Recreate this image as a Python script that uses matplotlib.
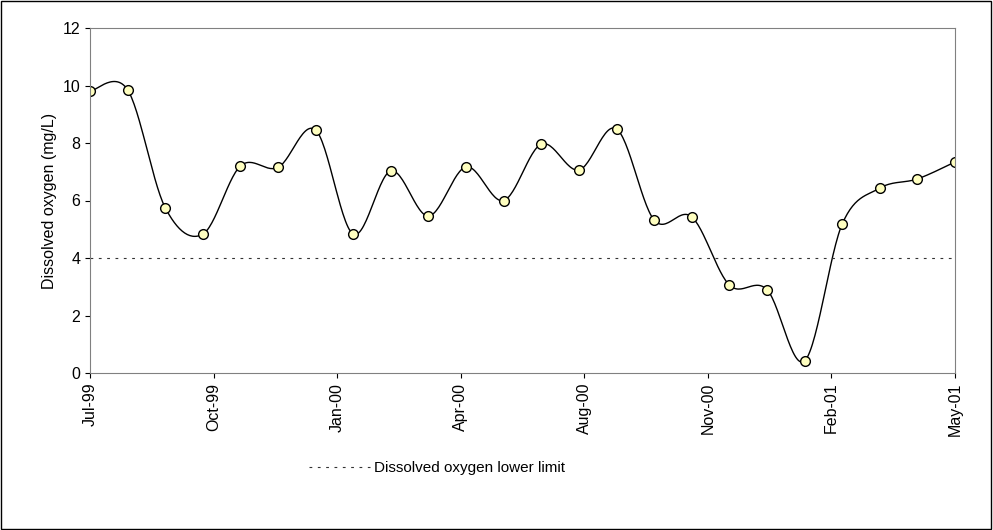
import matplotlib
matplotlib.use("Agg")
import matplotlib.pyplot as plt
import numpy as np
from matplotlib.lines import Line2D

plt.rcParams['font.family'] = ['Liberation Sans', 'DejaVu Sans']

values = [9.8, 9.85, 5.75, 4.83, 7.2, 7.15, 8.45, 4.83, 7.03, 5.46, 7.17, 6.0,
          7.96, 7.06, 8.49, 5.32, 5.43, 3.06, 2.9, 0.42, 5.18, 6.43, 6.75, 7.34]
tick_labels = ["Jul-99", "Oct-99", "Jan-00", "Apr-00", "Aug-00", "Nov-00", "Feb-01", "May-01"]
lower_limit = 4

x = np.arange(len(values), dtype=float)
y = np.array(values)

def catmull(x, y, n=30):
    px = np.concatenate([[x[0]], x, [x[-1]]])
    py = np.concatenate([[y[0]], y, [y[-1]]])
    xs, ys = [], []
    for i in range(1, len(px) - 2):
        p0, p1, p2, p3 = [np.array([px[j], py[j]]) for j in (i-1, i, i+1, i+2)]
        c1 = p1 + (p2 - p0) / 6
        c2 = p2 - (p3 - p1) / 6
        t = np.linspace(0, 1, n)[:, None]
        b = (1-t)**3*p1 + 3*(1-t)**2*t*c1 + 3*(1-t)*t**2*c2 + t**3*p2
        xs.extend(b[:, 0]); ys.extend(b[:, 1])
    return np.array(xs), np.array(ys)

fig = plt.figure(figsize=(9.93, 5.30), dpi=100)
fig.patches.append(plt.Rectangle((0.001, 0.002), 0.997, 0.996, transform=fig.transFigure,
                                 fill=False, edgecolor='black', linewidth=1))
ax = fig.add_axes([90/993, 1-373/530, 865/993, 345/530])
sx, sy = catmull(x, y)
ax.plot(sx, sy, color='black', lw=1)
ax.plot(x, y, 'o', ms=7, mfc='#FFFFC0', mec='black', mew=1)
ax.axhline(lower_limit, color='#333333', lw=0.8, ls=(0, (2.5, 5)))
ax.set_xlim(0, len(values) - 1)
ax.set_ylim(0, 12)
ax.set_yticks(range(0, 13, 2))
ticks = np.linspace(0, len(values) - 1, len(tick_labels))
ax.set_xticks(ticks)
ax.set_xticklabels(tick_labels, rotation=90, fontsize=11.5)
ax.tick_params(axis='y', labelsize=11.5)
ax.tick_params(direction='out')
ax.set_ylabel("Dissolved oxygen (mg/L)", fontsize=11.5)
for s in ax.spines.values():
    s.set_color('#808080')
fig.legend([Line2D([], [], color='#333333', lw=0.8, ls=(0, (2.5, 5)))],
           ["Dissolved oxygen lower limit"], loc='center', bbox_to_anchor=(0.44, 1-468/530),
           frameon=False, fontsize=11, handlelength=4, handletextpad=0.3)
fig.savefig("out.png", dpi=100)
